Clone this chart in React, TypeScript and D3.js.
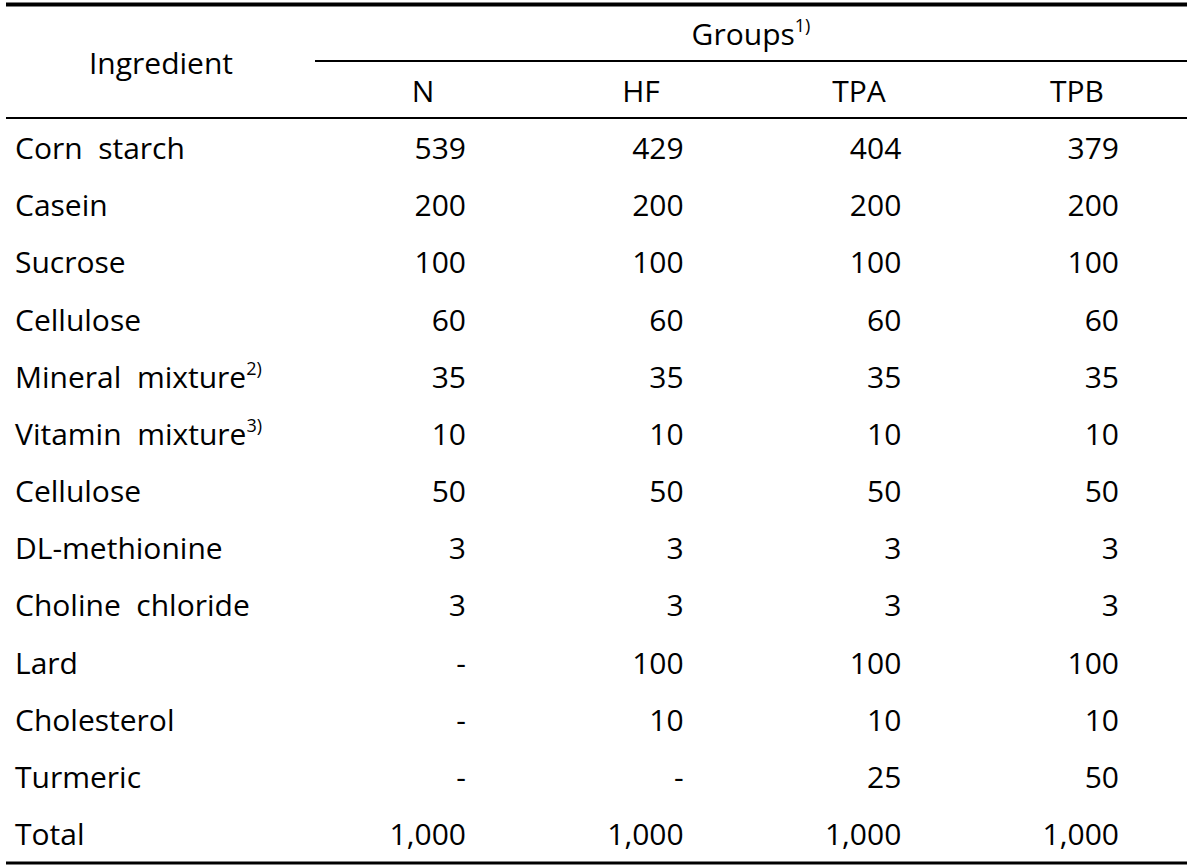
import * as d3 from "d3";
import React from "react";

// table contents
const GROUPS = ["N", "HF", "TPA", "TPB"];
const INGREDIENTS = [
  "Corn  starch",
  "Casein",
  "Sucrose",
  "Cellulose",
  "Mineral  mixture",
  "Vitamin  mixture",
  "Cellulose",
  "DL-methionine",
  "Choline  chloride",
  "Lard",
  "Cholesterol",
  "Turmeric",
  "Total",
];
const FOOTNOTES = ["", "", "", "", "2)", "3)", "", "", "", "", "", "", ""];
const N_VALUES = ["539", "200", "100", "60", "35", "10", "50", "3", "3", "-", "-", "-", "1,000"];
const HF_VALUES = ["429", "200", "100", "60", "35", "10", "50", "3", "3", "100", "10", "-", "1,000"];
const TPA_VALUES = ["404", "200", "100", "60", "35", "10", "50", "3", "3", "100", "10", "25", "1,000"];
const TPB_VALUES = ["379", "200", "100", "60", "35", "10", "50", "3", "3", "100", "10", "50", "1,000"];

const W = 1200;
const H = 868;
const FONT = "'Open Sans', 'Noto Sans', sans-serif";

export default function App() {
  const columns = [N_VALUES, HF_VALUES, TPA_VALUES, TPB_VALUES];

  // right edge of numbers per group
  const xNum = d3.scalePoint<string>().domain(GROUPS).range([466, 1119]);
  // header label centres
  const xHead = d3.scalePoint<string>().domain(GROUPS).range([423, 1077]);
  // row baselines
  const y = d3
    .scalePoint<number>()
    .domain(d3.range(INGREDIENTS.length))
    .range([159, 845]);

  const left = 6;
  const right = 1187;

  return (
    <div style={{ position: "absolute", left: 0, top: 0 }}>
      <svg width={W} height={H} style={{ display: "block", background: "#fff" }}>
        <g fontFamily={FONT} fontSize={30} fill="#000">
          {/* rules */}
          <line x1={left} x2={right} y1={4.5} y2={4.5} stroke="#000" strokeWidth={4} />
          <line x1={315} x2={right} y1={61} y2={61} stroke="#000" strokeWidth={2} />
          <line x1={left} x2={right} y1={118} y2={118} stroke="#000" strokeWidth={2} />
          <line x1={left} x2={right} y1={863} y2={863} stroke="#000" strokeWidth={3} />

          {/* header */}
          <text x={161} y={74} textAnchor="middle">Ingredient</text>
          <text x={751} y={45} textAnchor="middle">
            Groups
            <tspan fontSize={18} dy={-13}>1)</tspan>
          </text>
          {GROUPS.map((g) => (
            <text key={g} x={xHead(g)} y={102} textAnchor="middle">
              {g}
            </text>
          ))}

          {/* body */}
          {INGREDIENTS.map((name, i) => (
            <text key={"r" + i} x={15} y={y(i)} style={{ whiteSpace: "pre" }}>
              {name}
              {FOOTNOTES[i] && (
                <tspan fontSize={18} dy={-13}>
                  {FOOTNOTES[i]}
                </tspan>
              )}
            </text>
          ))}
          {columns.map((vals, c) =>
            vals.map((v, i) => (
              <text key={c + "-" + i} x={xNum(GROUPS[c])} y={y(i)} textAnchor="end">
                {v}
              </text>
            ))
          )}
        </g>
      </svg>
    </div>
  );
}
